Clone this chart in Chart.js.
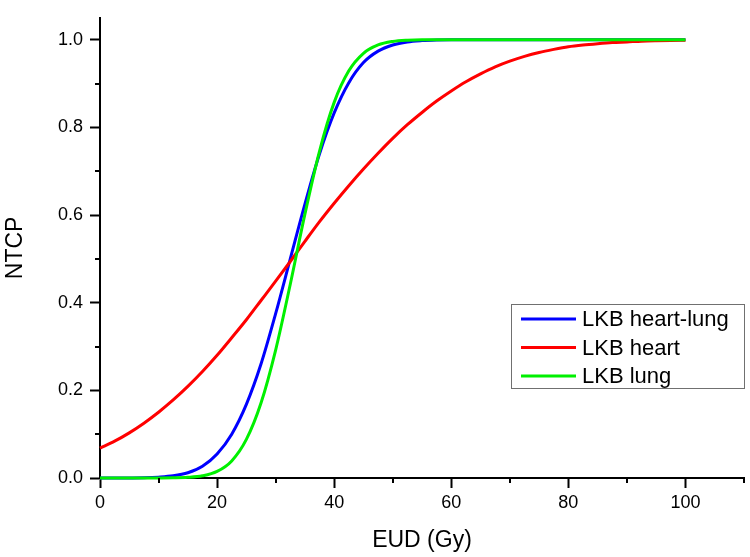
<!DOCTYPE html>
<html>
<head>
<meta charset="utf-8">
<title>NTCP vs EUD</title>
<script src="https://cdn.jsdelivr.net/npm/chart.js@4.4.1/dist/chart.umd.min.js"></script>
<style>
  html, body { margin: 0; padding: 0; background: #fff; }
  #wrap { position: relative; width: 750px; height: 557px; }
</style>
</head>
<body>
<div id="wrap"><canvas id="chart"></canvas></div>
<script>
// dose grid (Gy) shared by all three curves
const doses = [
  0, 2.5, 5, 7.5, 10, 12.5, 15, 17.5, 20, 22.5,
  25, 27.5, 30, 32.5, 35, 37.5, 40, 42.5, 45, 47.5,
  50, 52.5, 55, 57.5, 60, 62.5, 65, 67.5, 70, 72.5,
  75, 77.5, 80, 82.5, 85, 87.5, 90, 92.5, 95, 97.5, 100
];

const heartLung = [
  0, 0, 0.0002, 0.0006, 0.002, 0.005, 0.012, 0.027, 0.055, 0.100,
  0.168, 0.260, 0.375, 0.500, 0.625, 0.740, 0.833, 0.902, 0.948, 0.974,
  0.988, 0.995, 0.998, 0.9994, 1, 1, 1, 1, 1, 1,
  1, 1, 1, 1, 1, 1, 1, 1, 1, 1, 1
];

const heart = [
  0.068, 0.084, 0.103, 0.125, 0.150, 0.178, 0.209, 0.243, 0.280, 0.320,
  0.361, 0.405, 0.449, 0.494, 0.540, 0.585, 0.627, 0.667, 0.705, 0.741,
  0.775, 0.806, 0.834, 0.860, 0.883, 0.904, 0.922, 0.938, 0.951, 0.962,
  0.971, 0.978, 0.984, 0.988, 0.991, 0.9935, 0.995, 0.9967, 0.9977, 0.9984, 0.9989
];

const lung = [
  0, 0, 0, 0, 0.0001, 0.0004, 0.0015, 0.005, 0.015, 0.039,
  0.088, 0.171, 0.292, 0.442, 0.602, 0.746, 0.857, 0.929, 0.969, 0.988,
  0.996, 0.999, 1, 1, 1, 1, 1, 1, 1, 1,
  1, 1, 1, 1, 1, 1, 1, 1, 1, 1, 1
];

const seriesLabels = ["LKB heart-lung", "LKB heart", "LKB lung"];
const seriesColors = ["#0000ff", "#ff0000", "#00f000"];

const xMajorTicks = [0, 20, 40, 60, 80, 100];
const xMinorTicks = [10, 30, 50, 70, 90, 110];
const yMajorTicks = [0, 0.2, 0.4, 0.6, 0.8, 1.0];
const yMinorTicks = [0.1, 0.3, 0.5, 0.7, 0.9];

const fontFamily = "'Liberation Sans', Arial, sans-serif";

function toPoints(values) {
  return doses.map((d, i) => ({ x: d, y: values[i] }));
}

function makeDataset(index, values, order) {
  return {
    label: seriesLabels[index],
    data: toPoints(values),
    borderColor: seriesColors[index],
    backgroundColor: seriesColors[index],
    borderWidth: 3,
    pointRadius: 0,
    cubicInterpolationMode: "monotone",
    clip: 4,
    order: order,
  };
}

// short unlabeled ticks between the labeled ones
const minorTickPlugin = {
  id: "minorTicks",
  afterDraw(chart) {
    const { ctx, chartArea, scales } = chart;
    ctx.save();
    ctx.strokeStyle = "#000";
    ctx.lineWidth = 2;
    ctx.beginPath();
    xMinorTicks.forEach((v) => {
      const px = Math.round(scales.x.getPixelForValue(v));
      ctx.moveTo(px, chartArea.bottom);
      ctx.lineTo(px, chartArea.bottom + 5);
    });
    yMinorTicks.forEach((v) => {
      const py = Math.round(scales.y.getPixelForValue(v));
      ctx.moveTo(chartArea.left, py);
      ctx.lineTo(chartArea.left - 5, py);
    });
    ctx.stroke();
    ctx.restore();
  },
};

// boxed legend sitting inside the plot, lower right
const boxLegendPlugin = {
  id: "boxLegend",
  afterDraw(chart) {
    const { ctx, chartArea } = chart;
    const right = chartArea.right + 1;
    const left = right - 234;
    const top = 304;
    const rowGap = 28.5;
    ctx.save();
    ctx.fillStyle = "#fff";
    ctx.fillRect(left, top, right - left, 85);
    ctx.strokeStyle = "#707070";
    ctx.lineWidth = 1;
    ctx.strokeRect(left + 0.5, top + 0.5, right - left - 1, 84);
    ctx.font = "22px " + fontFamily;
    ctx.textBaseline = "middle";
    ctx.textAlign = "left";
    chart.data.datasets.forEach((ds, i) => {
      const y = top + 15 + i * rowGap;
      ctx.strokeStyle = ds.borderColor;
      ctx.lineWidth = 3;
      ctx.beginPath();
      ctx.moveTo(left + 10, y);
      ctx.lineTo(left + 65, y);
      ctx.stroke();
      ctx.fillStyle = "#000";
      ctx.fillText(ds.label, left + 71, y + 1);
    });
    ctx.restore();
  },
};

const axisGrid = {
  display: true,
  drawOnChartArea: false,
  drawTicks: true,
  tickLength: 10,
  tickWidth: 2,
  tickColor: "#000",
  color: "#000",
};

new Chart(document.getElementById("chart"), {
  type: "line",
  data: {
    datasets: [
      makeDataset(0, heartLung, 2),
      makeDataset(1, heart, 1),
      makeDataset(2, lung, 0),
    ],
  },
  options: {
    responsive: true,
    maintainAspectRatio: false,
    animation: false,
    layout: { padding: { left: 0, top: 6, right: 6, bottom: 0 } },
    plugins: {
      legend: { display: false },
      tooltip: { enabled: false },
    },
    scales: {
      x: {
        type: "linear",
        min: 0,
        max: 110,
        grid: axisGrid,
        border: { display: true, color: "#000", width: 2 },
        afterBuildTicks: (axis) => {
          axis.ticks = xMajorTicks.map((v) => ({ value: v }));
        },
        afterFit: (axis) => {
          axis.height = 79;
        },
        ticks: {
          color: "#000",
          padding: 4,
          maxRotation: 0,
          font: { family: fontFamily, size: 18 },
          callback: (v) => String(v),
        },
        title: {
          display: true,
          text: "EUD (Gy)",
          color: "#000",
          padding: { top: 3, bottom: 3 },
          font: { family: fontFamily, size: 23 },
        },
      },
      y: {
        type: "linear",
        min: 0,
        max: 1.05,
        grid: axisGrid,
        border: { display: true, color: "#000", width: 2 },
        afterBuildTicks: (axis) => {
          axis.ticks = yMajorTicks.map((v) => ({ value: v }));
        },
        afterFit: (axis) => {
          axis.width = 100;
        },
        ticks: {
          color: "#000",
          padding: 7,
          font: { family: fontFamily, size: 18 },
          callback: (v) => Number(v).toFixed(1),
        },
        title: {
          display: true,
          text: "NTCP",
          color: "#000",
          padding: { top: 2, bottom: 2 },
          font: { family: fontFamily, size: 23 },
        },
      },
    },
  },
  plugins: [minorTickPlugin, boxLegendPlugin],
});
</script>
</body>
</html>
